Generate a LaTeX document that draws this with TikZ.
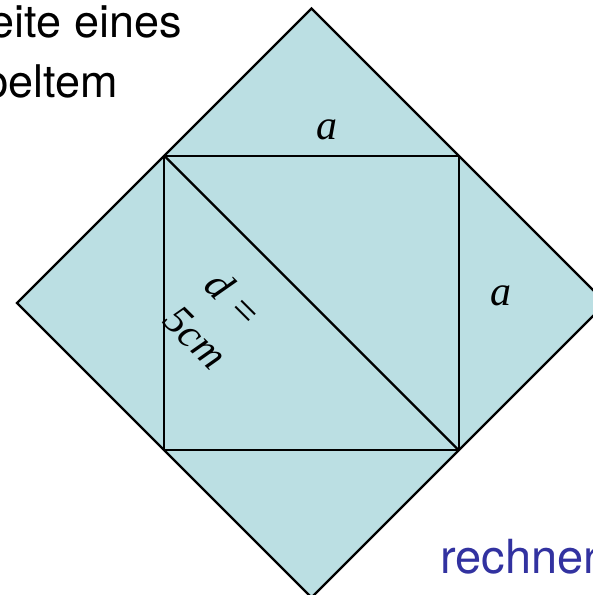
\documentclass[tikz,border=0pt]{standalone}
\usepackage{fontspec}
\setmainfont{TeX Gyre Heros}
\newfontfamily\timesfont{Liberation Serif}
\usepackage{xcolor}
\definecolor{fillblue}{RGB}{187,223,227}
\definecolor{textblue}{RGB}{50,50,160}

\begin{document}
\begin{tikzpicture}[x=1pt,y=-1pt,line join=miter,
  edge/.style={line width=2.3pt},
  lbl/.style={font=\fontsize{42}{54}\selectfont\timesfont\itshape},
  txt/.style={font=\fontsize{45}{60}\selectfont,inner sep=0pt}]
\useasboundingbox (0,0) rectangle (593,595);
\coordinate (T) at (311.5,8.5);
\coordinate (R) at (606,303);
\coordinate (B) at (311.5,597.5);
\coordinate (L) at (17,303);
\coordinate (TL) at (164.25,155.75);
\coordinate (BR) at (458.75,450.25);
\filldraw[fill=fillblue,edge] (T) -- (R) -- (B) -- (L) -- cycle;
\draw[edge] (TL) rectangle (BR);
\draw[edge] (TL) -- (BR);
\node[lbl] (atop) at (327,130) {a};
\node[lbl] (aright) at (501,296) {a};
\node[lbl,rotate=-45,align=center] (diag) at (215,318) {d =\\5cm};
\node[txt,anchor=base east] (line1) at (182,37) {eite eines};
\node[txt,anchor=base east] (line2) at (118,97) {peltem};
\node[txt,anchor=base west,text=textblue,font=\fontsize{47}{60}\selectfont] (credit) at (440,573) {rechner};
\end{tikzpicture}
\end{document}
